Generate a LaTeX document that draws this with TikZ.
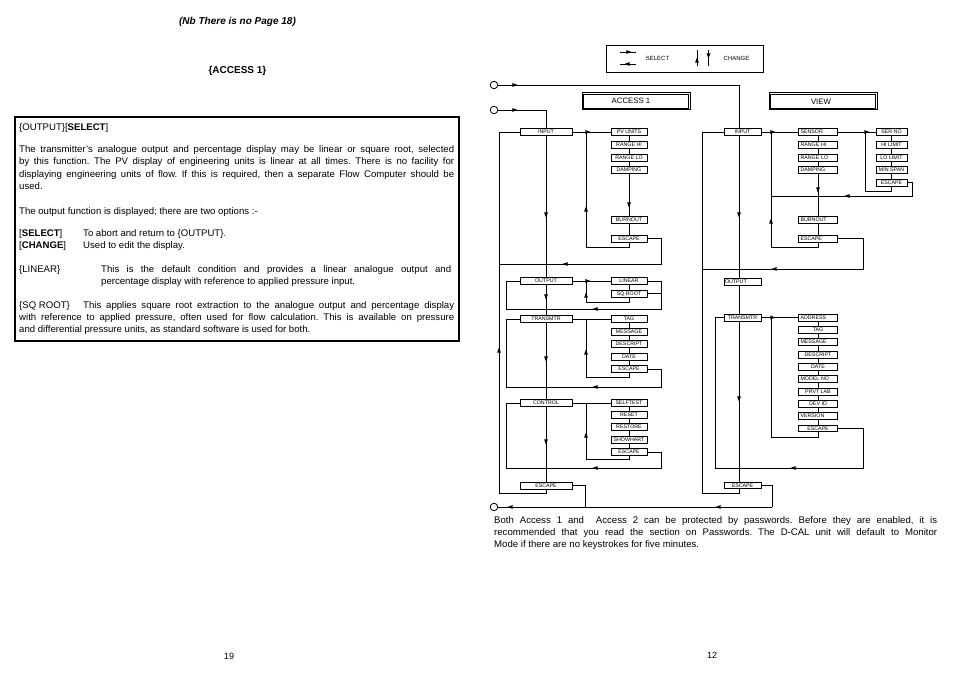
\documentclass[tikz,border=0pt]{standalone}
\usepackage{fontspec}
\setmainfont{Liberation Sans}
\usetikzlibrary{backgrounds}
\newcommand\tipat[3]{\fill[shift={(#1,#2)},rotate=#3] (2.6,0) -- (-2.6,1.9) -- (-2.6,-1.9) -- cycle;}
\frenchspacing
\begin{document}
\begin{tikzpicture}[x=1pt,y=-1pt,
 bx/.style={draw, line width=0.7pt, fill=white, inner sep=0pt, minimum height=6.8pt,
   font=\fontsize{5.3}{5.5}\selectfont, text height=3.8pt, text depth=0pt},
 wa/.style={bx, minimum width=52pt},
 wb/.style={bx, minimum width=36pt},
 wc/.style={bx, minimum width=37pt},
 wd/.style={bx, minimum width=39pt},
 we/.style={bx, minimum width=31pt},
 lft/.style={text width=35pt, align=left},
 ln/.style={line width=0.8pt},
 tx/.style={anchor=base west, inner sep=0pt, font=\fontsize{9.6}{12}\selectfont},
 pnum/.style={inner sep=0pt, font=\fontsize{9}{10}\selectfont},
 circ/.style={circle, draw, line width=0.8pt, minimum size=7.5pt, inner sep=0pt},
 dbl/.style={draw, line width=0.8pt, inner sep=0pt, minimum width=108pt, minimum height=17pt},
]
\useasboundingbox (0,0) rectangle (954,676);

% ---------------- left page ----------------
\node[inner sep=0pt, font=\fontsize{10}{11}\selectfont\bfseries\itshape] (nb) at (237.5,22) {(Nb There is no Page 18)};
\node[inner sep=0pt, font=\fontsize{10}{11}\selectfont\bfseries] (acchead) at (237.5,71) {\{ACCESS 1\}};
\node[draw, line width=2pt, minimum width=444pt, minimum height=224pt, inner sep=0pt] (lbox) at (237,229) {};

\node[tx] (t1) at (19,130.5) {\{OUTPUT\}[\textbf{SELECT}]};
\node[tx] (t2) at (19,152.5) {\makebox[435pt][s]{The transmitter’s analogue output and percentage display may be linear or square root, selected}};
\node[tx] (t3) at (19,165) {\makebox[435pt][s]{by this function. The PV display of engineering units is linear at all times. There is no facility for}};
\node[tx] (t4) at (19,177.5) {\makebox[435pt][s]{displaying engineering units of flow. If this is required, then a separate Flow Computer should be}};
\node[tx] (t5) at (19,189.5) {used.};
\node[tx] (t6) at (19,214.5) {The output function is displayed; there are two options :-};
\node[tx] (t7) at (19,236.5) {[\textbf{SELECT}]};
\node[tx] (t7b) at (83,236.5) {To abort and return to \{OUTPUT\}.};
\node[tx] (t8) at (19,248.5) {[\textbf{CHANGE}]};
\node[tx] (t8b) at (83,248.5) {Used to edit the display.};
\node[tx] (t9) at (19,272.5) {\{LINEAR\}};
\node[tx] (t9b) at (101,272.5) {\makebox[350pt][s]{This is the default condition and provides a linear analogue output and}};
\node[tx] (t10) at (101,284.5) {percentage display with reference to applied pressure input.};
\node[tx] (t11) at (19,308.5) {\{SQ ROOT\}};
\node[tx] (t11b) at (83,308.5) {\makebox[371pt][s]{This applies square root extraction to the analogue output and percentage display}};
\node[tx] (t12) at (19,320.5) {\makebox[435pt][s]{with reference to applied pressure, often used for flow calculation. This is available on pressure}};
\node[tx] (t13) at (19,332.5) {and differential pressure units, as standard software is used for both.};

\node[pnum] (p19) at (229,656) {19};
\node[pnum] (p12) at (712,655) {12};

% ---------------- legend ----------------
\node[draw, line width=0.8pt, minimum width=157pt, minimum height=27pt, inner sep=0pt] (leg) at (684.5,58.5) {};
\draw[line width=0.8pt] (620,52) -- (636,52); \tipat{629}{52}{0}
\draw[line width=0.8pt] (620,64) -- (636,64); \tipat{627}{64}{180}
\node[inner sep=0pt, font=\fontsize{6}{6}\selectfont] (lsel) at (657.5,58) {SELECT};
\draw[line width=0.8pt] (697,50) -- (697,66); \tipat{697}{60}{90}
\draw[line width=0.8pt] (708.5,50) -- (708.5,66); \tipat{708.5}{56}{-90}
\node[inner sep=0pt, font=\fontsize{6}{6}\selectfont] (lchg) at (736.5,58) {CHANGE};

% ---------------- header boxes ----------------
\node[dbl] (acc) at (636,101.3) {};
\draw[line width=1.1pt] ([shift={(2,2)}]acc.north west) rectangle ([shift={(-2,-2)}]acc.south east);
\node[inner sep=0pt, font=\fontsize{7.8}{8}\selectfont] (acct) at (631,101) {ACCESS 1};
\node[dbl] (view) at (823,101.3) {};
\draw[line width=1.1pt] ([shift={(2,2)}]view.north west) rectangle ([shift={(-2,-2)}]view.south east);
\node[inner sep=0pt, font=\fontsize{7.8}{8}\selectfont] (viewt) at (821,101.5) {VIEW};

% ---------------- circles ----------------
\node[circ] (c1) at (494,85) {};
\node[circ] (c2) at (494,110) {};
\node[circ] (c3) at (494,507) {};

% ---------------- ACCESS 1 boxes ----------------
\node[wa] (a1in) at (546,132) {INPUT};
\node[wb] (a1pv) at (629,132) {PV UNITS};
\node[wb] (a1rhi) at (629,145) {RANGE HI};
\node[wb] (a1rlo) at (629,157.5) {RANGE LO};
\node[wb] (a1dmp) at (629,170) {DAMPING};
\node[wb] (a1bo) at (629,220) {BURNOUT};
\node[wb] (a1e1) at (629,238.5) {ESCAPE};
\node[wa] (a1out) at (546,281) {OUTPUT};
\node[wb] (a1lin) at (629,281) {LINEAR};
\node[wb] (a1sq) at (629,293.5) {SQ ROOT};
\node[wa] (a1tr) at (546,319) {TRANSMTR};
\node[wb] (a1tag) at (629,319) {TAG};
\node[wb] (a1msg) at (629,331.5) {MESSAGE};
\node[wb] (a1des) at (629,344) {DESCRIPT};
\node[wb] (a1dat) at (629,356.5) {DATE};
\node[wb] (a1e2) at (629,369) {ESCAPE};
\node[wa] (a1ctl) at (546,403) {CONTROL};
\node[wb] (a1st) at (629,403) {SELFTEST};
\node[wb] (a1rs) at (629,415) {RESET};
\node[wb] (a1rt) at (629,427) {RESTORE};
\node[wb] (a1sh) at (629,439.5) {SHOWHART};
\node[wb] (a1e3) at (629,452) {ESCAPE};
\node[wa] (a1esc) at (546,485.5) {ESCAPE};

% ---------------- VIEW boxes ----------------
\node[wc] (vin) at (742.5,132) {INPUT};
\node[wd,lft] (vsen) at (818,132) {SENSOR};
\node[wd,lft] (vrhi) at (818,145) {RANGE HI};
\node[wd,lft] (vrlo) at (818,157.5) {RANGE LO};
\node[wd,lft] (vdmp) at (818,170) {DAMPING};
\node[wd,lft] (vbo) at (818,220) {BURNOUT};
\node[wd,lft] (ve1) at (818,238.5) {ESCAPE};
\node[we] (vsn) at (891.5,132) {SER NO};
\node[we] (vhi) at (891.5,145) {HI LIMIT};
\node[we] (vlo) at (891.5,157.5) {LO LIMIT};
\node[we] (vmin) at (891.5,170) {MIN SPAN};
\node[we] (ve3) at (891.5,182.5) {ESCAPE};
\node[wc,text width=35pt,align=left] (vout) at (742.5,282) {OUTPUT};
\node[wc] (vtr) at (742.5,317.5) {TRANSMTR};
\node[wd,lft] (vadd) at (818,317.5) {ADDRESS};
\node[wd] (vtag) at (818,330) {TAG};
\node[wd,lft] (vmsg) at (818,342) {MESSAGE};
\node[wd] (vdes) at (818,354.5) {DESCRIPT};
\node[wd] (vdat) at (818,366.7) {DATE};
\node[wd,lft] (vmod) at (818,379) {MODEL NO};
\node[wd] (vprv) at (818,391.5) {PRVT LAB};
\node[wd] (vdev) at (818,403.5) {DEV ID};
\node[wd,lft] (vver) at (818,416) {VERSION};
\node[wd] (ve2) at (818,428.3) {ESCAPE};
\node[wc] (vesc) at (742.5,485.3) {ESCAPE};

% ---------------- connectors ----------------
\begin{scope}[on background layer, ln]
 % ACCESS 1
 \draw (c2.east) -- (546,110) -- (546,493) -- (499,493) -- (499,132) -- (a1in.west);
 \draw (a1in.east) -- (a1pv.west);
 \draw (a1pv) -- (a1e1);
 \draw (a1e1.south) -- (629,247) -- (586,247) -- (586,132);
 \draw (a1e1.east) -| (661,264) -- (499,264);
 \draw (a1out.east) -- (a1lin.west);
 \draw (a1lin) -- (a1sq);
 \draw (a1sq.south) -- (629,302) -- (586,302) -- (586,281);
 \draw (a1lin.east) -| (661,309) -- (506,309) -- (506,281) -- (a1out.west);
 \draw (a1sq.east) -- (661,293.5);
 \draw (a1tr.east) -- (a1tag.west);
 \draw (a1tag) -- (a1e2);
 \draw (a1e2.south) -- (629,377) -- (586,377) -- (586,319);
 \draw (a1e2.east) -| (661,387) -- (506,387) -- (506,319) -- (a1tr.west);
 \draw (a1ctl.east) -- (a1st.west);
 \draw (a1st) -- (a1e3);
 \draw (a1e3.south) -- (629,459) -- (586,459) -- (586,403);
 \draw (a1e3.east) -| (661,468) -- (506,468) -- (506,403) -- (a1ctl.west);
 \draw (c3.east) -- (772,507);
 \draw (a1esc.east) -| (585,507);
 % VIEW
 \draw (c1.east) -- (739,85) -- (739,493) -- (702,493) -- (702,132) -- (vin.west);
 \draw (vin.east) -- (vsen.west);
 \draw (vsen) -- (ve1);
 \draw (ve1.south) -- (818,247) -- (771,247) -- (771,132);
 \draw (ve1.east) -| (863,269) -- (702,269);
 \draw (vsen.east) -- (vsn.west);
 \draw (vsn) -- (ve3);
 \draw (ve3.south) -- (891.5,191) -- (865,191) -- (865,132);
 \draw (ve3.east) -| (912,196) -- (771,196);
 \draw (vtr.east) -- (vadd.west);
 \draw (vadd) -- (ve2);
 \draw (ve2.south) -- (818,437) -- (771,437) -- (771,317.5);
 \draw (ve2.east) -| (863,468) -- (715,468) -- (715,317.5) -- (vtr.west);
 \draw (vesc.east) -| (772,507);
\end{scope}

% ---------------- arrow tips ----------------
\tipat{515}{85}{0} \tipat{515}{110}{0}
\tipat{546}{215}{-90} \tipat{546}{297}{-90} \tipat{546}{359}{-90} \tipat{546}{442}{-90}
\tipat{499}{350}{90}
\tipat{588}{132}{0} \tipat{586}{209}{90} \tipat{629}{205}{-90} \tipat{565}{264}{180}
\tipat{588}{281}{0} \tipat{586}{295}{90} \tipat{595}{309}{180}
\tipat{586}{352}{90} \tipat{595}{387}{180}
\tipat{586}{435}{90} \tipat{595}{468}{180}
\tipat{510}{507}{180} \tipat{718}{507}{180}
\tipat{739}{215}{-90} \tipat{739}{399}{-90}
\tipat{773}{132}{0} \tipat{771}{221}{90} \tipat{818}{190}{-90} \tipat{774}{269}{180}
\tipat{867}{132}{0} \tipat{847}{196}{180}
\tipat{773}{317.5}{0} \tipat{793}{468}{180}

% ---------------- bottom right text ----------------
\node[tx] (b1) at (494,523.5) {\makebox[443pt][s]{Both Access 1 and \ Access 2 can be protected by passwords. Before they are enabled, it is}};
\node[tx] (b2) at (494,535.5) {\makebox[443pt][s]{recommended that you read the section on Passwords. The D-CAL unit will default to Monitor}};
\node[tx] (b3) at (494,547.5) {Mode if there are no keystrokes for five minutes.};
\end{tikzpicture}
\end{document}
